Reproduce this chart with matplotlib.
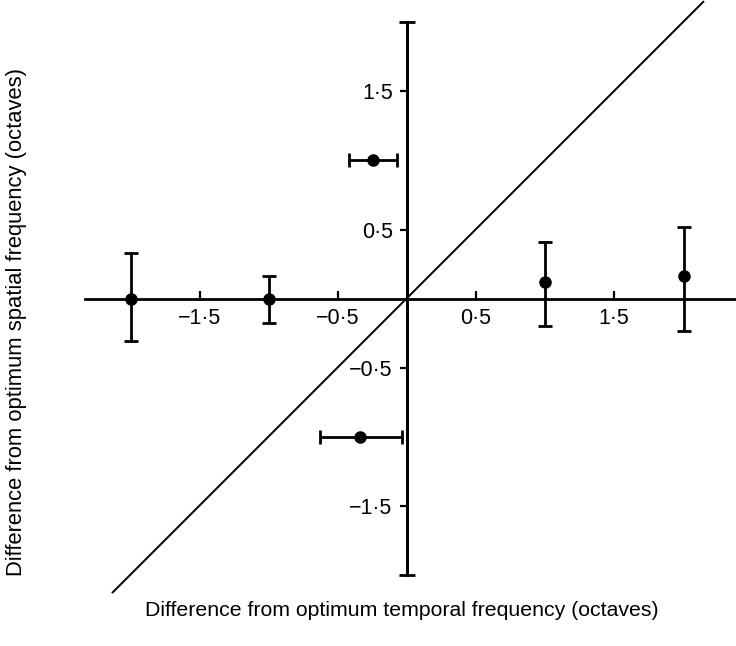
import matplotlib
matplotlib.use("Agg")
import matplotlib.pyplot as plt

# Data (octaves)
temporal_v = [-2.0, -1.0, 1.0, 2.01]          # points with vertical error bars
spatial_v = [0.0, 0.0, 0.12, 0.16]
yerr_low = [0.31, 0.18, 0.32, 0.395]
yerr_high = [0.33, 0.16, 0.29, 0.355]

temporal_h = [-0.24, -0.34]                  # points with horizontal error bars
spatial_h = [1.0, -1.0]
xerr_low = [0.175, 0.29]
xerr_high = [0.17, 0.31]

tick_vals = [-1.5, -0.5, 0.5, 1.5]
tick_labels = ["\u22121\u00b75", "\u22120\u00b75", "0\u00b75", "1\u00b75"]
diag_range = [-2.13, 2.15]

plt.rcParams['font.family'] = ['Liberation Sans', 'DejaVu Sans']

fig = plt.figure(figsize=(7.36, 6.46), dpi=100)
ax = fig.add_axes([0, 0, 1, 1])
ax.set_xlim(-2.946, 2.387)
ax.set_ylim(-2.518, 2.163)
ax.patch.set_visible(False)

for s in ['top', 'right']:
    ax.spines[s].set_visible(False)
ax.spines['left'].set_position(('data', 0))
ax.spines['bottom'].set_position(('data', 0))
ax.spines['left'].set_bounds(-2.0, 2.0)
ax.spines['bottom'].set_bounds(-2.33, 2.387)
for s in ['left', 'bottom']:
    ax.spines[s].set_linewidth(2.0)
    ax.spines[s].set_color('black')

ax.set_xticks(tick_vals)
ax.set_xticklabels(tick_labels)
ax.set_yticks(tick_vals)
ax.set_yticklabels(tick_labels)
ax.tick_params(axis='x', direction='in', length=6, width=1.6, pad=7, labelsize=15.5)
ax.tick_params(axis='y', direction='out', length=5, width=1.6, pad=5, labelsize=15.5)

# caps on the y axis
ax.errorbar([0], [0], yerr=[[2.0], [2.0]], fmt='none', ecolor='black',
            elinewidth=2.0, capsize=6, capthick=2.0)

# diagonal line y = x
ax.plot(diag_range, diag_range, color='black', lw=1.4)

ax.errorbar(temporal_v, spatial_v, yerr=[yerr_low, yerr_high], fmt='o',
            color='black', ms=8, elinewidth=2.0, capsize=5, capthick=2.0)
ax.errorbar(temporal_h, spatial_h, xerr=[xerr_low, xerr_high], fmt='o',
            color='black', ms=8, elinewidth=2.0, capsize=5, capthick=2.0)

fig.text(402 / 736, 1 - 610 / 646, "Difference from optimum temporal frequency (octaves)",
         ha='center', va='center', fontsize=15.3)
fig.text(17 / 736, 1 - 322 / 646, "Difference from optimum spatial frequency (octaves)",
         ha='center', va='center', rotation=90, fontsize=15.8)

fig.savefig("out.png", dpi=100)
